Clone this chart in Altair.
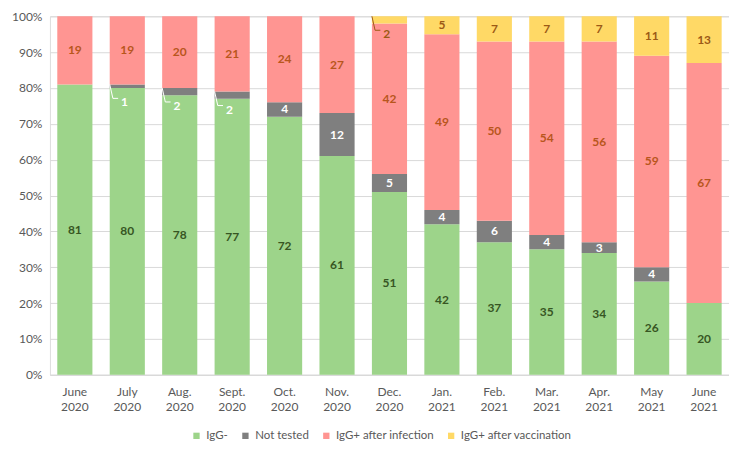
import altair as alt
import pandas as pd

months = ["June 2020", "July 2020", "Aug. 2020", "Sept. 2020", "Oct. 2020", "Nov. 2020",
          "Dec. 2020", "Jan. 2021", "Feb. 2021", "Mar. 2021", "Apr. 2021", "May 2021", "June 2021"]
categories = ["IgG-", "Not tested", "IgG+ after infection", "IgG+ after vaccination"]
igg_neg = [81, 80, 78, 77, 72, 61, 51, 42, 37, 35, 34, 26, 20]
not_tested = [0, 1, 2, 2, 4, 12, 5, 4, 6, 4, 3, 4, 0]
igg_inf = [19, 19, 20, 21, 24, 27, 42, 49, 50, 54, 56, 59, 67]
igg_vac = [0, 0, 0, 0, 0, 0, 2, 5, 7, 7, 7, 11, 13]
y_ticks = [0, 10, 20, 30, 40, 50, 60, 70, 80, 90, 100]

colors = ["#9dd48a", "#7f7f7f", "#ff9592", "#ffd966"]
label_colors = ["#375623", "#ffffff", "#b8561c", "#9c5a16"]

rows = []
for i, m in enumerate(months):
    lo = 0
    for k, (c, series) in enumerate(zip(categories, [igg_neg, not_tested, igg_inf, igg_vac])):
        v = series[i]
        if v > 0:
            rows.append(dict(month=m, cat=c, value=v, lo=lo, hi=lo + v, mid=lo + v / 2,
                             small=bool(v <= 2), order=k))
        lo += v
df = pd.DataFrame(rows)

FONT = "Lato"

x_scale = alt.Scale(paddingInner=0.33, paddingOuter=0.14)
y_scale = alt.Scale(domain=[0, 100], nice=False)

x_axis = alt.Axis(labelExpr="split(datum.label, ' ')", labelAngle=0, ticks=False, tickSize=0,
                  domainColor="#d9d9d9", labelColor="#595959", labelFontSize=12, title=None,
                  labelPadding=12, labelFont=FONT, labelLineHeight=15)
y_axis = alt.Axis(values=y_ticks, labelExpr="datum.value + '%'", ticks=False, title=None,
                  tickSize=0, domain=False, gridColor="#d9d9d9", labelColor="#595959",
                  labelFontSize=12, labelPadding=8, labelFont=FONT)


def xs(bp=0.5):
    return alt.X("month:N", sort=months, scale=x_scale, axis=x_axis, title=None, bandPosition=bp)


def ys(field):
    return alt.Y(field, scale=y_scale, axis=y_axis, title=None)


base = alt.Chart(df)

bars = base.mark_bar().encode(
    x=xs(),
    y=ys("lo:Q"),
    y2="hi:Q",
    color=alt.Color("cat:N", sort=categories, title=None,
                    scale=alt.Scale(domain=categories, range=colors),
                    legend=alt.Legend(orient="none", legendX=141, legendY=414, direction="horizontal",
                                      symbolType="square", symbolSize=40, symbolStrokeWidth=0,
                                      labelFontSize=11.5, labelColor="#595959", labelFont=FONT,
                                      columnPadding=11, labelOffset=4)),
    order=alt.Order("order:Q"),
)

label_color = alt.Color("cat:N", scale=alt.Scale(domain=categories, range=label_colors), legend=None)

big_labels = base.transform_filter("!datum.small").mark_text(
    fontWeight="bold", fontSize=12, font=FONT
).encode(
    x=xs(),
    y=ys("mid:Q"),
    text="value:Q",
    color=label_color,
)

small = base.transform_filter("datum.small")

small_labels = small.mark_text(fontWeight="bold", fontSize=12, font=FONT, dy=18).encode(
    x=xs(0.42),
    y=ys("hi:Q"),
    text="value:Q",
    color=label_color,
)

leader1 = small.mark_rule(strokeWidth=1, y2Offset=14).encode(
    x=xs(0.0),
    x2=alt.X2("month", bandPosition=0.09),
    y=ys("hi:Q"),
    y2="hi:Q",
    color=label_color,
)
leader2 = small.mark_rule(strokeWidth=1, yOffset=14, y2Offset=14).encode(
    x=xs(0.09),
    x2=alt.X2("month", bandPosition=0.24),
    y=ys("hi:Q"),
    y2="hi:Q",
    color=label_color,
)

chart = alt.layer(bars, big_labels, leader1, leader2, small_labels).resolve_scale(
    color="independent"
).properties(
    width=680, height=359, padding={"left": 3, "top": 2, "right": 0, "bottom": 0}
).configure_view(stroke=None).configure(font=FONT)

chart.save("out.html", embed_options={"renderer": "svg", "actions": False})
